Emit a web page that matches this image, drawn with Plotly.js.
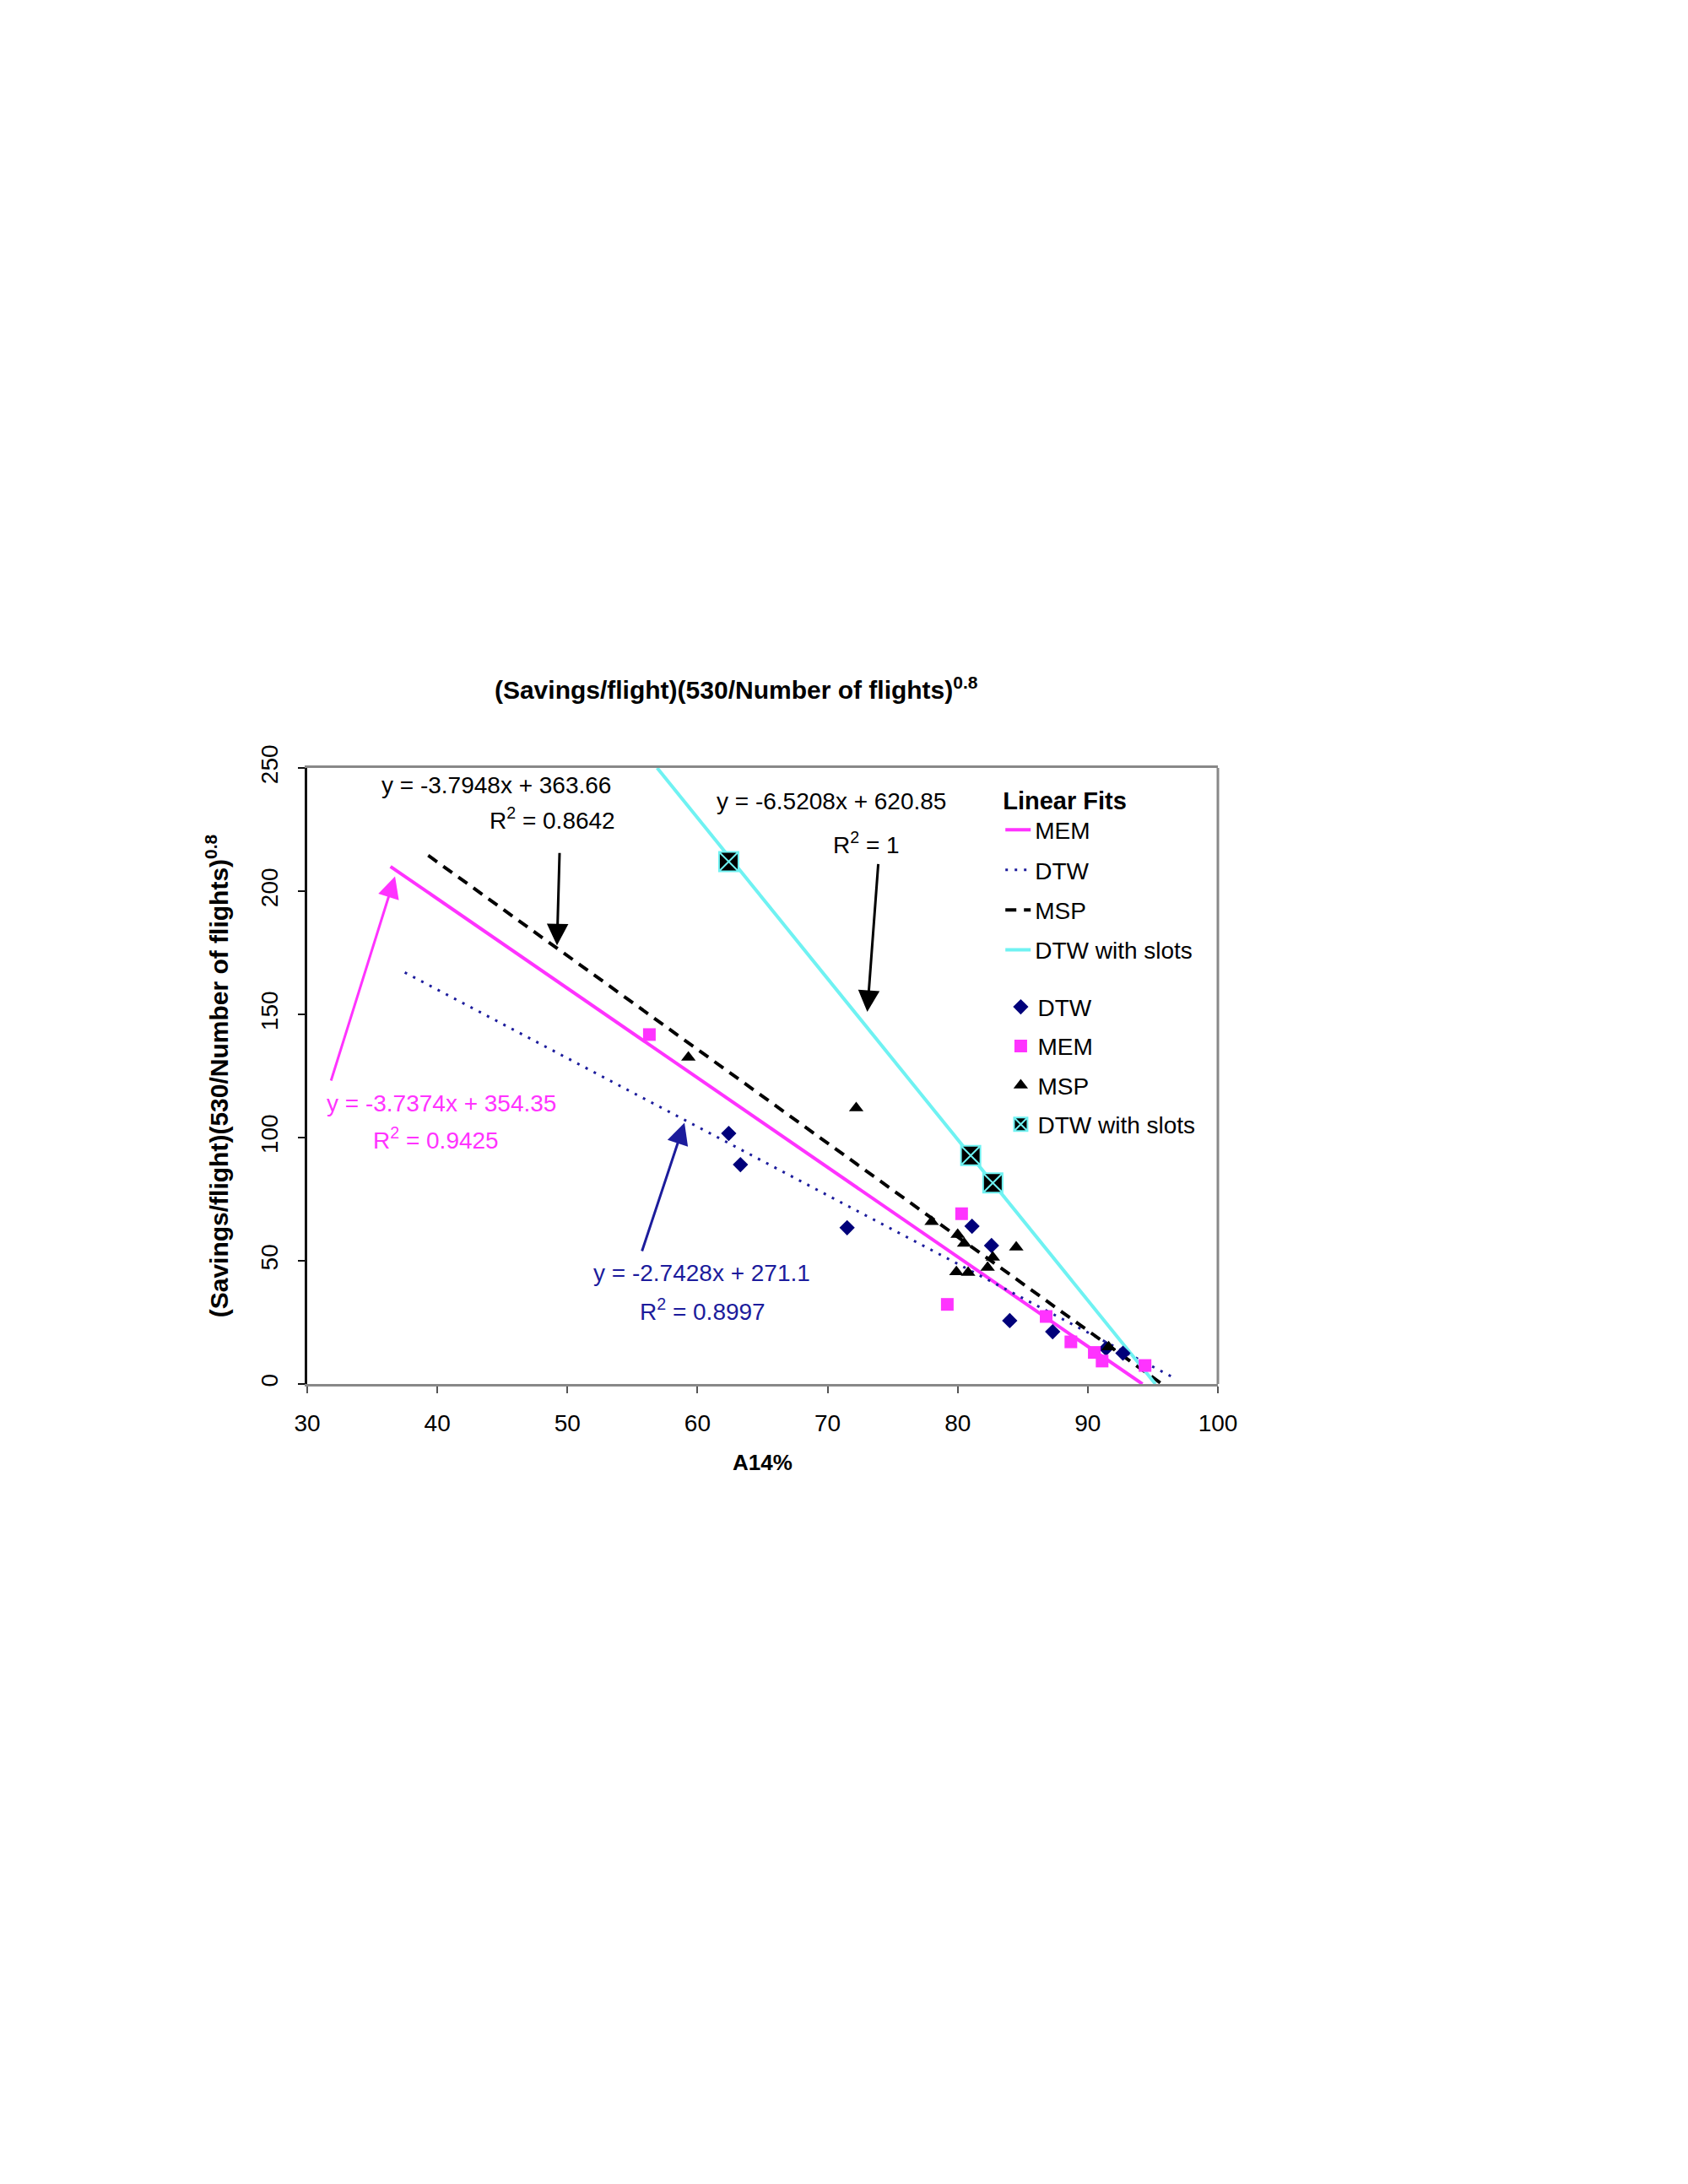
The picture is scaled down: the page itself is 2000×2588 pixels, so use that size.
<!DOCTYPE html>
<html>
<head>
<meta charset="utf-8">
<script src="https://cdn.plot.ly/plotly-3.0.1.min.js"></script>
<style>
  body { margin: 0; background: #fff; }
  #chart { width: 2000px; height: 2588px; }
</style>
</head>
<body>
<div id="chart"></div>
<script>
// scatter points
var dtwX = [62.4, 63.3, 71.5, 81.1, 82.6, 84.0, 87.3, 91.4, 92.7];
var dtwY = [101.7, 89.0, 63.4, 64.0, 56.2, 25.7, 21.2, 14.4, 12.5];

var memX = [56.3, 80.3, 79.2, 86.8, 88.7, 90.5, 91.1, 94.4];
var memY = [141.8, 69.1, 32.3, 27.4, 17.1, 12.8, 9.3, 7.5];

var mspX = [59.3, 72.2, 78.0, 80.0, 80.5, 84.5, 82.7, 82.3, 79.9, 80.8, 91.6];
var mspY = [132.5, 112.0, 65.8, 60.6, 57.0, 55.5, 51.4, 47.3, 45.5, 45.2, 15.0];

var slotsX = [62.4, 81.0, 82.7];
var slotsY = [212.0, 92.7, 81.6];

// trendline ends
var memFitX = [36.4, 94.2];
var memFitY = [210, 0];
var dtwFitX = [37.5, 96.8];
var dtwFitY = [167, 2];
var mspFitX = [39.3, 95.7];
var mspFitY = [214.5, 0];
var slotsFitX = [56.9, 95.2];
var slotsFitY = [250, 0];

var font = 'Arial, "Liberation Sans", sans-serif';
var magenta = '#ff33ff';
var navy = '#1c1c9c';
var cyan = '#6ff2f2';

var data = [
    {x: memFitX, y: memFitY, name: 'MEM', mode: 'lines', legend: 'legend', legendgroup: 'a',
     line: {color: magenta, width: 4}},
    {x: dtwFitX, y: dtwFitY, name: 'DTW', mode: 'lines', legend: 'legend', legendgroup: 'b',
     line: {color: navy, width: 3, dash: '3px,8px'}},
    {x: mspFitX, y: mspFitY, name: 'MSP', mode: 'lines', legend: 'legend', legendgroup: 'c',
     line: {color: 'black', width: 4, dash: '13px,9px'}},
    {x: slotsFitX, y: slotsFitY, name: 'DTW with slots', mode: 'lines', legend: 'legend', legendgroup: 'd',
     line: {color: cyan, width: 4}},

    {x: dtwX, y: dtwY, name: 'DTW', mode: 'markers', legend: 'legend2', legendgroup: 'e',
     marker: {symbol: 'diamond', color: '#00007a', size: 14}},
    {x: memX, y: memY, name: 'MEM', mode: 'markers', legend: 'legend2', legendgroup: 'f',
     marker: {symbol: 'square', color: magenta, size: 15}},
    {x: mspX, y: mspY, name: 'MSP', mode: 'markers', legend: 'legend2', legendgroup: 'g',
     marker: {symbol: 'triangle-up', color: 'black', size: 15}},
    {x: slotsX, y: slotsY, name: 'DTW with slots', mode: 'markers', legend: 'legend2', legendgroup: 'h',
     marker: {symbol: 'square-x', color: 'black', size: 23, line: {color: cyan, width: 2}}}
];

function arrow(x, y, ax, ay, color) {
    return {x: x, y: y, ax: ax, ay: ay, xref: 'x', yref: 'y', axref: 'x', ayref: 'y',
            text: '', showarrow: true, arrowhead: 2, arrowsize: 1.7, arrowwidth: 3, arrowcolor: color};
}
function label(x, y, text, color, anchor) {
    return {x: x, y: y, xref: 'x', yref: 'y', text: text, showarrow: false,
            xanchor: anchor || 'center', yanchor: 'middle',
            font: {family: font, size: 28, color: color}};
}

var annotations = [
    label(44.5, 243, 'y = -3.7948x + 363.66', 'black'),
    label(53.8, 229.5, 'R<sup>2</sup> = 0.8642', 'black', 'right'),
    arrow(49.2, 178, 49.4, 216, 'black'),

    label(70.3, 236.5, 'y = -6.5208x + 620.85', 'black'),
    label(73.0, 219.5, 'R<sup>2</sup> = 1', 'black'),
    arrow(73.05, 151, 73.9, 211.5, 'black'),

    label(40.3, 114, 'y = -3.7374x + 354.35', magenta),
    label(39.9, 99.5, 'R<sup>2</sup> = 0.9425', magenta),
    arrow(36.75, 206, 31.8, 122.6, magenta),

    label(60.3, 45, 'y = -2.7428x + 271.1', navy),
    label(60.4, 30, 'R<sup>2</sup> = 0.8997', navy),
    arrow(59.0, 106, 55.7, 53.4, navy)
];

var layout = {
    width: 2000,
    height: 2588,
    paper_bgcolor: 'white',
    plot_bgcolor: 'white',
    font: {family: font, size: 28, color: 'black'},
    margin: {l: 364, r: 557, t: 910, b: 948},
    title: {
        text: '<b>(Savings/flight)(530/Number of flights)<sup>0.8</sup></b>',
        font: {family: font, size: 30, color: 'black'},
        xref: 'paper', x: 0.471, xanchor: 'center',
        yref: 'container', y: 0.684, yanchor: 'middle'
    },
    xaxis: {
        range: [30, 100],
        dtick: 10,
        showgrid: false,
        zeroline: false,
        showline: true,
        linecolor: '#888888',
        linewidth: 3,
        mirror: true,
        ticks: 'outside',
        ticklen: 8,
        tickwidth: 2,
        tickcolor: '#555555',
        ticklabelstandoff: 11,
        tickfont: {family: font, size: 28},
        title: {text: '<b>A14%</b>', standoff: 24, font: {family: font, size: 26}}
    },
    yaxis: {
        range: [0, 250],
        dtick: 50,
        showgrid: false,
        zeroline: false,
        showline: true,
        linecolor: '#111111',
        linewidth: 3,
        ticks: 'outside',
        ticklen: 8,
        tickwidth: 2,
        tickcolor: '#111111',
        tickangle: -90,
        ticklabelstandoff: 13,
        tickfont: {family: font, size: 28},
        title: {text: '<b>(Savings/flight)(530/Number of flights)<sup>0.8</sup></b>', standoff: 25,
                font: {family: font, size: 30}}
    },
    shapes: [
        {type: 'line', xref: 'paper', yref: 'paper', x0: 1, x1: 1, y0: 0, y1: 1,
         line: {color: '#888888', width: 3}}
    ],
    annotations: annotations,
    legend: {
        x: 0.762, y: 0.985, xanchor: 'left', yanchor: 'top',
        bgcolor: 'rgba(0,0,0,0)',
        title: {text: '<b>Linear Fits</b>', side: 'top', font: {family: font, size: 29}},
        font: {family: font, size: 28},
        tracegroupgap: 8
    },
    legend2: {
        x: 0.765, y: 0.646, xanchor: 'left', yanchor: 'top',
        bgcolor: 'rgba(0,0,0,0)',
        font: {family: font, size: 28},
        tracegroupgap: 7
    }
};

Plotly.newPlot('chart', data, layout, {displayModeBar: false});
</script>
</body>
</html>
